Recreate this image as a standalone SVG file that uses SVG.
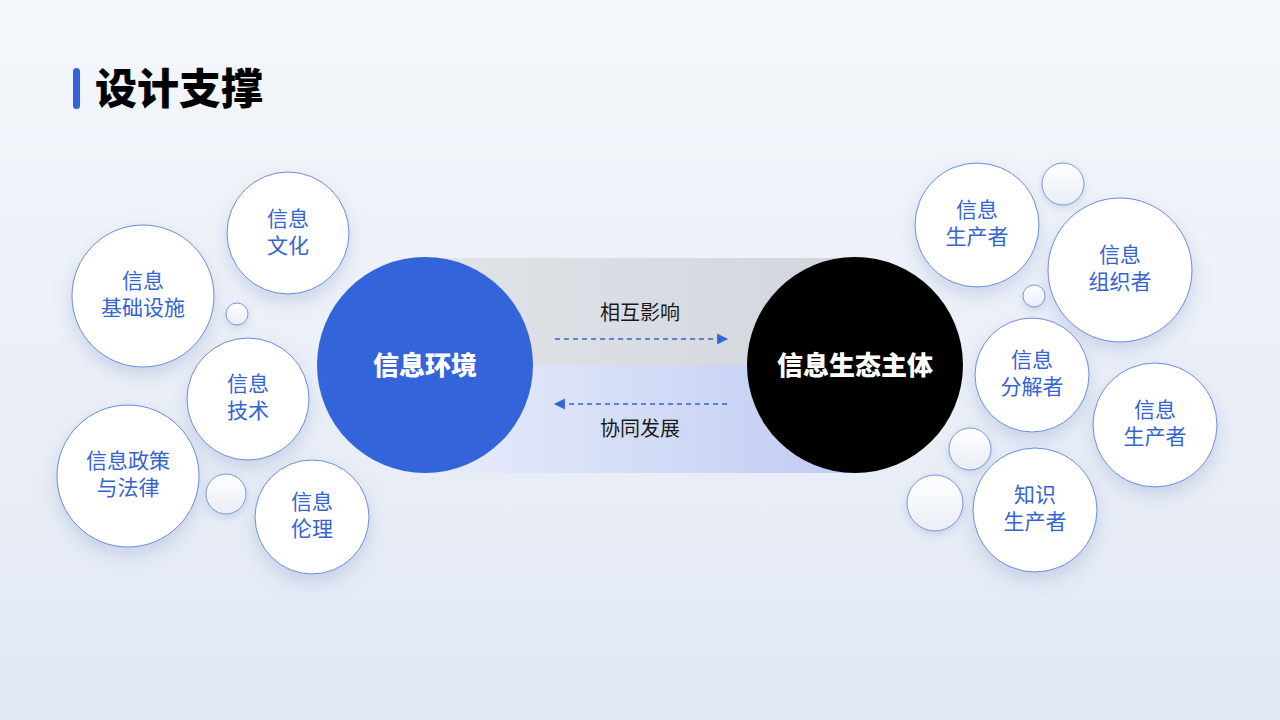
<svg xmlns="http://www.w3.org/2000/svg" width="1280" height="720" viewBox="0 0 1280 720">
<defs>
  <linearGradient id="bg" x1="0" y1="0" x2="0" y2="1">
    <stop offset="0" stop-color="#f4f7fb"/>
    <stop offset="1" stop-color="#e2e8f3"/>
  </linearGradient>
  <linearGradient id="bandTop" x1="0" y1="0" x2="1" y2="0">
    <stop offset="0" stop-color="#e0e3e8"/>
    <stop offset="1" stop-color="#d2d5db"/>
  </linearGradient>
  <linearGradient id="bandBot" x1="0" y1="0" x2="1" y2="0">
    <stop offset="0" stop-color="#e8edfb"/>
    <stop offset="1" stop-color="#bfcbf2"/>
  </linearGradient>
  <linearGradient id="smallFill" x1="0" y1="0" x2="0" y2="1">
    <stop offset="0" stop-color="#ffffff"/>
    <stop offset="1" stop-color="#e9eef6"/>
  </linearGradient>
  <filter id="shadow" x="-30%" y="-30%" width="160%" height="170%">
    <feDropShadow dx="0" dy="8" stdDeviation="9" flood-color="#8a9ccc" flood-opacity="0.35"/>
  </filter>
  <filter id="shadowS" x="-50%" y="-50%" width="200%" height="200%">
    <feDropShadow dx="0" dy="3" stdDeviation="4" flood-color="#8a9ccc" flood-opacity="0.35"/>
  </filter>
  <marker id="arr" viewBox="0 0 10 10" refX="9" refY="5" markerWidth="11" markerHeight="14" markerUnits="userSpaceOnUse" orient="auto">
    <path d="M0,0 L10,5 L0,10 Z" fill="#3464d9"/>
  </marker>
  <style>
    .bub { fill:#ffffff; stroke:#6a8be3; stroke-width:1; filter:url(#shadow); }
    .small { fill:url(#smallFill); stroke:#7c97e2; stroke-width:1; filter:url(#shadowS); }
    .bt { font-family:"Noto Sans CJK SC","Noto Sans",sans-serif; font-size:21px; fill:#3563d0; text-anchor:middle; }
    .ct { font-family:"Noto Sans CJK SC","Noto Sans",sans-serif; font-size:26px; font-weight:900; fill:#ffffff; text-anchor:middle; }
    .lbl { font-family:"Noto Sans CJK SC","Noto Sans",sans-serif; font-size:20px; fill:#1a1a1a; text-anchor:middle; }
    .dash { stroke:#3464d9; stroke-width:1.3; stroke-dasharray:5 4; fill:none; }
  </style>
</defs>

<rect x="0" y="0" width="1280" height="720" fill="url(#bg)"/>

<g id="title">
  <rect x="73" y="68" width="7" height="41" rx="3.5" fill="#3464d9"/>
  <text x="95" y="104" font-family="Noto Sans CJK SC, sans-serif" font-size="42" font-weight="900" fill="#000000">设计支撑</text>
</g>

<g id="band">
  <rect x="425" y="258" width="430" height="107" fill="url(#bandTop)"/>
  <rect x="425" y="365" width="430" height="108" fill="url(#bandBot)"/>
</g>

<g id="connectors">
  <line class="dash" x1="555" y1="339" x2="727" y2="339" marker-end="url(#arr)"/>
  <text class="lbl" x="640" y="320">相互影响</text>
  <line class="dash" x1="727" y1="404" x2="555" y2="404" marker-end="url(#arr)"/>
  <text class="lbl" x="640" y="436">协同发展</text>
</g>

<g id="node-env">
  <circle cx="425" cy="365" r="108" fill="#3464d9"/>
  <text class="ct" x="425" y="375">信息环境</text>
</g>
<g id="node-subject">
  <circle cx="855" cy="365" r="108" fill="#000000"/>
  <text class="ct" x="855" y="375">信息生态主体</text>
</g>

<!-- Left bubbles -->
<g id="node-culture">
  <circle class="bub" cx="288" cy="233" r="61"/>
  <text class="bt" x="288" y="226">信息</text>
  <text class="bt" x="288" y="253">文化</text>
</g>
<g id="node-infra">
  <circle class="bub" cx="143" cy="296" r="71"/>
  <text class="bt" x="143" y="288">信息</text>
  <text class="bt" x="143" y="315">基础设施</text>
</g>
<g id="dot-l1"><circle class="small" cx="237" cy="314" r="11"/></g>
<g id="node-tech">
  <circle class="bub" cx="248" cy="399" r="61"/>
  <text class="bt" x="248" y="391">信息</text>
  <text class="bt" x="248" y="418">技术</text>
</g>
<g id="node-policy">
  <circle class="bub" cx="128" cy="476" r="71"/>
  <text class="bt" x="128" y="468">信息政策</text>
  <text class="bt" x="128" y="495">与法律</text>
</g>
<g id="dot-l2"><circle class="small" cx="226" cy="494" r="20"/></g>
<g id="node-ethics">
  <circle class="bub" cx="312" cy="517" r="57"/>
  <text class="bt" x="312" y="509">信息</text>
  <text class="bt" x="312" y="536">伦理</text>
</g>

<!-- Right bubbles -->
<g id="node-producer1">
  <circle class="bub" cx="977" cy="225" r="62"/>
  <text class="bt" x="977" y="217">信息</text>
  <text class="bt" x="977" y="244">生产者</text>
</g>
<g id="dot-r1"><circle class="small" cx="1063" cy="184" r="21"/></g>
<g id="node-organizer">
  <circle class="bub" cx="1120" cy="270" r="72"/>
  <text class="bt" x="1120" y="262">信息</text>
  <text class="bt" x="1120" y="289">组织者</text>
</g>
<g id="dot-r2"><circle class="small" cx="1034" cy="296" r="11"/></g>
<g id="node-decomposer">
  <circle class="bub" cx="1032" cy="375" r="57"/>
  <text class="bt" x="1032" y="367">信息</text>
  <text class="bt" x="1032" y="394">分解者</text>
</g>
<g id="node-producer2">
  <circle class="bub" cx="1155" cy="425" r="62"/>
  <text class="bt" x="1155" y="417">信息</text>
  <text class="bt" x="1155" y="444">生产者</text>
</g>
<g id="dot-r3"><circle class="small" cx="970" cy="449" r="21"/></g>
<g id="dot-r4"><circle class="small" cx="935" cy="503" r="28"/></g>
<g id="node-knowledge">
  <circle class="bub" cx="1035" cy="510" r="62"/>
  <text class="bt" x="1035" y="502">知识</text>
  <text class="bt" x="1035" y="529">生产者</text>
</g>
</svg>
